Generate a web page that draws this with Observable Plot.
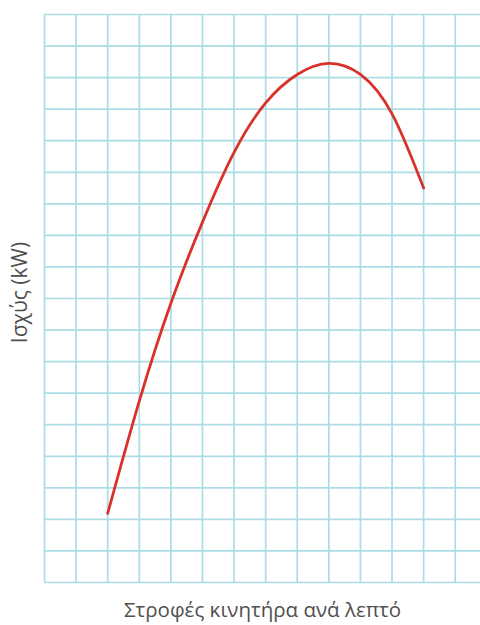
<!DOCTYPE html>
<html>
<head>
<meta charset="utf-8">
<script src="https://cdn.jsdelivr.net/npm/d3@7"></script>
<script src="https://cdn.jsdelivr.net/npm/@observablehq/plot@0.6"></script>
<style>
  html, body { margin: 0; padding: 0; background: #fff; }
</style>
</head>
<body>
<div id="chart"></div>
<script>
// Curve, in grid units
const rpm   = [2, 3, 4, 5, 6, 7, 8, 9, 10, 11, 12];
const power = [2.19, 5.75, 8.85, 11.42, 13.63, 15.2, 16.1, 16.45, 16.1, 14.85, 12.5];
const gridXTicks = d3.range(0, 14);
const gridYTicks = d3.range(0, 19);
const xLabel = "Στροφές κινητήρα ανά λεπτό";
const yLabel = "Ισχύς (kW)";

const data = rpm.map((r, i) => ({rpm: r, power: power[i]}));

const gridColor = "#acdce6";
const chart = Plot.plot({
  width: 480,
  height: 625,
  marginLeft: 44,
  marginRight: 0,
  marginTop: 14,
  marginBottom: 43,
  style: {fontFamily: "Open Sans, sans-serif", background: "#fff"},
  x: {domain: [0, 13.8], axis: null},
  y: {domain: [0, 18], axis: null},
  marks: [
    Plot.ruleX(gridXTicks, {x: d => d, stroke: gridColor, strokeWidth: 1.7}),
    Plot.ruleY(gridYTicks, {y: d => d, x1: 0, x2: 13.8, stroke: gridColor, strokeWidth: 1.7}),
    Plot.line(data, {x: "rpm", y: "power", curve: "natural", stroke: "#d9322b", strokeWidth: 2.8}),
    Plot.text([xLabel], {text: d => d, frameAnchor: "bottom", dy: 28, fontSize: 20.5, fill: "#505050", lineAnchor: "middle"}),
    Plot.text([yLabel], {text: d => d, frameAnchor: "left", textAnchor: "middle", dx: -24, dy: -6, rotate: -90, fontSize: 21, fill: "#505050", lineAnchor: "middle"})
  ]
});
document.getElementById("chart").appendChild(chart);
</script>
</body>
</html>
